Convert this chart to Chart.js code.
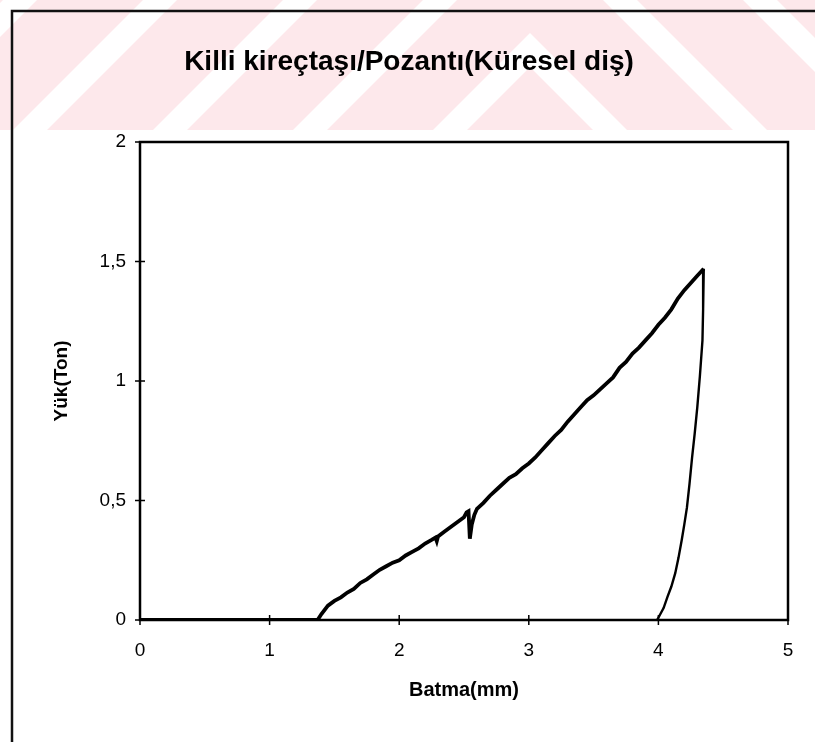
<!DOCTYPE html>
<html lang="tr">
<head>
<meta charset="utf-8">
<title>Killi kireçtaşı/Pozantı(Küresel diş)</title>
<script src="https://cdn.jsdelivr.net/npm/chart.js@4/dist/chart.umd.min.js"></script>
<style>
  html, body { margin: 0; padding: 0; background: #fff; }
  #wrap { position: relative; width: 815px; height: 742px; }
</style>
</head>
<body>
<div id="wrap"><canvas id="loadChart" width="815" height="742"></canvas></div>
<script>
/* ---- Data: penetration (mm) vs load (ton) ---- */
var chartTitle = 'Killi kireçtaşı/Pozantı(Küresel diş)';
var xTitle = 'Batma(mm)';
var yTitle = 'Yük(Ton)';

var xTickValues = [0, 1, 2, 3, 4, 5];
var xTickLabels = ['0', '1', '2', '3', '4', '5'];
var yTickValues = [0, 0.5, 1, 1.5, 2];
var yTickLabels = ['0', '0,5', '1', '1,5', '2'];

/* loading branch */
var loadX = [0, 1.37, 1.40, 1.45, 1.50, 1.55, 1.60, 1.65, 1.70, 1.75, 1.80, 1.85, 1.90, 1.95,
  2.00, 2.05, 2.10, 2.15, 2.20, 2.25, 2.28, 2.29, 2.30, 2.35, 2.40, 2.45, 2.50, 2.52, 2.535,
  2.545, 2.56, 2.58, 2.60, 2.65, 2.70, 2.75, 2.80, 2.85, 2.90, 2.95, 3.00, 3.05, 3.10, 3.15,
  3.20, 3.25, 3.30, 3.35, 3.40, 3.45, 3.50, 3.55, 3.60, 3.65, 3.70, 3.75, 3.80, 3.85, 3.90,
  3.95, 4.00, 4.05, 4.10, 4.15, 4.20, 4.25, 4.30, 4.35];
var loadY = [0, 0, 0.025, 0.06, 0.08, 0.095, 0.115, 0.13, 0.155, 0.17, 0.19, 0.21, 0.225, 0.24,
  0.25, 0.27, 0.285, 0.30, 0.32, 0.335, 0.345, 0.33, 0.35, 0.37, 0.39, 0.41, 0.43, 0.45, 0.455,
  0.34, 0.40, 0.44, 0.465, 0.49, 0.52, 0.545, 0.57, 0.595, 0.61, 0.635, 0.655, 0.68, 0.71, 0.74,
  0.77, 0.795, 0.83, 0.86, 0.89, 0.92, 0.94, 0.965, 0.99, 1.015, 1.055, 1.08, 1.115, 1.14, 1.17,
  1.20, 1.235, 1.265, 1.30, 1.345, 1.38, 1.41, 1.44, 1.47];

/* unloading branch */
var unloadX = [4.35, 4.345, 4.34, 4.32, 4.30, 4.28, 4.26, 4.24, 4.22, 4.20, 4.18, 4.155, 4.13,
  4.10, 4.07, 4.04, 4.01, 3.99];
var unloadY = [1.47, 1.30, 1.17, 1.02, 0.89, 0.78, 0.68, 0.57, 0.47, 0.40, 0.335, 0.26, 0.196,
  0.14, 0.097, 0.05, 0.02, 0];

function toPoints(xs, ys) {
  var pts = [];
  for (var i = 0; i < xs.length; i++) pts.push({ x: xs[i], y: ys[i] });
  return pts;
}

var FONT = '"Liberation Sans", Arial, Helvetica, sans-serif';

/* ---- Plugins: page background, outer frame, title, plot box ---- */
var pageDecor = {
  id: 'pageDecor',
  beforeDraw: function (chart) {
    var ctx = chart.ctx;
    var w = chart.width;
    ctx.save();
    ctx.fillStyle = '#ffffff';
    ctx.fillRect(0, 0, w, chart.height);

    /* pink striped band across the top */
    ctx.beginPath();
    ctx.rect(0, 0, w, 130);
    ctx.clip();
    ctx.fillStyle = '#fde8eb';
    ctx.fillRect(0, 0, w, 130);
    ctx.fillStyle = '#ffffff';
    var apex = 530, band = 34;
    for (var a = 33 - 140 * 8; a <= 140; a += 140) {
      ctx.beginPath();
      ctx.moveTo(apex - 900, a + 900);
      ctx.lineTo(apex, a);
      ctx.lineTo(apex + 900, a + 900);
      ctx.lineTo(apex + 900, a + 900 + band);
      ctx.lineTo(apex, a + band);
      ctx.lineTo(apex - 900, a + 900 + band);
      ctx.closePath();
      ctx.fill();
    }
    ctx.restore();

    /* outer frame (top and left edges) */
    ctx.save();
    ctx.strokeStyle = '#111';
    ctx.lineWidth = 2.5;
    ctx.beginPath();
    ctx.moveTo(12, chart.height);
    ctx.lineTo(12, 11);
    ctx.lineTo(w, 11);
    ctx.stroke();

    /* chart title */
    ctx.fillStyle = '#000';
    ctx.font = 'bold 28px ' + FONT;
    ctx.textAlign = 'center';
    ctx.textBaseline = 'middle';
    ctx.fillText(chartTitle, 409, 62);
    ctx.restore();
  },
  afterDraw: function (chart) {
    var ctx = chart.ctx;
    var area = chart.chartArea;
    var xs = chart.scales.x;
    var ys = chart.scales.y;
    ctx.save();
    ctx.strokeStyle = '#000';
    ctx.lineWidth = 2.5;
    ctx.strokeRect(area.left, area.top, area.right - area.left, area.bottom - area.top);

    /* cross-style tick marks */
    ctx.lineWidth = 1.5;
    ctx.beginPath();
    xTickValues.forEach(function (v) {
      var px = xs.getPixelForValue(v);
      ctx.moveTo(px, area.bottom - 5);
      ctx.lineTo(px, area.bottom + 5);
    });
    yTickValues.forEach(function (v) {
      var py = ys.getPixelForValue(v);
      ctx.moveTo(area.left - 5, py);
      ctx.lineTo(area.left + 5, py);
    });
    ctx.stroke();
    ctx.restore();
  }
};

/* ---- Chart ---- */
var ctx = document.getElementById('loadChart').getContext('2d');
new Chart(ctx, {
  type: 'scatter',
  data: {
    datasets: [
      {
        label: 'Yükleme',
        data: toPoints(loadX, loadY),
        showLine: true,
        borderColor: '#000',
        borderWidth: 3.8,
        pointRadius: 0,
        tension: 0
      },
      {
        label: 'Boşaltma',
        data: toPoints(unloadX, unloadY),
        showLine: true,
        borderColor: '#000',
        borderWidth: 2.4,
        pointRadius: 0,
        tension: 0
      }
    ]
  },
  options: {
    responsive: false,
    animation: false,
    events: [],
    layout: { padding: { top: 142, right: 27, bottom: 0, left: 0 } },
    plugins: {
      legend: { display: false },
      title: { display: false },
      tooltip: { enabled: false }
    },
    scales: {
      x: {
        type: 'linear',
        min: 0,
        max: 5,
        afterBuildTicks: function (scale) {
          scale.ticks = xTickValues.map(function (v) { return { value: v }; });
        },
        afterFit: function (scale) { scale.height = 122; },
        ticks: {
          padding: 19,
          color: '#000',
          font: { family: FONT, size: 19 },
          callback: function (value, index) { return xTickLabels[index]; }
        },
        grid: { display: false, drawTicks: false },
        border: { display: false },
        title: {
          display: true,
          text: xTitle,
          color: '#000',
          font: { family: FONT, size: 20, weight: 'bold' },
          padding: { top: 0, bottom: 40 }
        }
      },
      y: {
        type: 'linear',
        min: 0,
        max: 2,
        afterBuildTicks: function (scale) {
          scale.ticks = yTickValues.map(function (v) { return { value: v }; });
        },
        afterFit: function (scale) { scale.width = 140; },
        ticks: {
          padding: 14,
          color: '#000',
          font: { family: FONT, size: 19 },
          callback: function (value, index) { return yTickLabels[index]; }
        },
        grid: { display: false, drawTicks: false },
        border: { display: false },
        title: {
          display: true,
          text: yTitle,
          color: '#000',
          font: { family: FONT, size: 19, weight: 'bold' },
          padding: { top: 50.6, bottom: 0 }
        }
      }
    }
  },
  plugins: [pageDecor]
});
</script>
</body>
</html>
